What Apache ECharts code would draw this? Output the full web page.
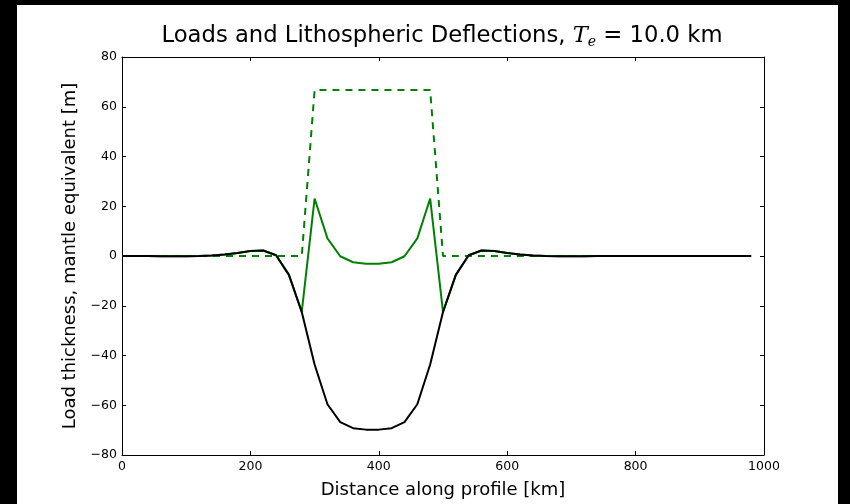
<!DOCTYPE html>
<html><head><meta charset="utf-8">
<script src="https://cdn.jsdelivr.net/npm/echarts@6/dist/echarts.min.js"></script>
<style>html,body{margin:0;padding:0;background:#000;}#c{width:850px;height:504px;}</style>
</head><body><div id="c"></div>
<script>
// distance along profile [km]
const distance = [0,20,40,60,80,100,120,140,160,180,200,220,240,260,280,300,320,340,360,380,400,420,440,460,480,500,520,540,560,580,600,620,640,660,680,700,720,740,760,780,800,820,840,860,880,900,920,940,960,980];
// load thickness (dashed green)
const loadThickness = [0,0,0,0,0,0,0,0,0,0,0,0,0,0,0,66.7,66.7,66.7,66.7,66.7,66.7,66.7,66.7,66.7,66.7,0,0,0,0,0,0,0,0,0,0,0,0,0,0,0,0,0,0,0,0,0,0,0,0,0];
// deflection (black)
const deflection = [0,0,0,-0.1,-0.1,-0.1,0,0.2,0.6,1.2,2.0,2.2,0.3,-7.6,-22.5,-43.6,-59.6,-66.8,-69.2,-69.8,-69.8,-69.2,-66.8,-59.6,-43.6,-22.5,-7.6,0.3,2.2,2.0,1.2,0.6,0.2,0,-0.1,-0.1,-0.1,0,0,0,0,0,0,0,0,0,0,0,0,0];
// load after deflection (solid green)
const loadDeflected = [0,0,0,-0.1,-0.1,-0.1,0,0.2,0.6,1.2,2.0,2.2,0.3,-7.6,-22.5,23.1,7.1,-0.1,-2.5,-3.1,-3.1,-2.5,-0.1,7.1,23.1,-22.5,-7.6,0.3,2.2,2.0,1.2,0.6,0.2,0,-0.1,-0.1,-0.1,0,0,0,0,0,0,0,0,0,0,0,0,0];
const xTicks = [0,200,400,600,800,1000];
const yTicks = [-80,-60,-40,-20,0,20,40,60,80];

const pair = (xs, ys) => xs.map((x, i) => [x, ys[i]]);
const fmt = v => (v < 0 ? '\u2212' + Math.abs(v) : String(v));
const font = '"DejaVu Sans", sans-serif';
const chart = echarts.init(document.getElementById('c'), null, {renderer: 'canvas'});
const axisCommon = {
  axisLine: {show: true, onZero: false, lineStyle: {color: '#000', width: 1}},
  axisTick: {show: true, inside: true, length: 4, lineStyle: {color: '#000'}},
  splitLine: {show: false}
};
chart.setOption({
  backgroundColor: '#000',
  animation: false,
  graphic: [{type: 'rect', z: -10, silent: true, shape: {x: 17, y: 5, width: 821, height: 499}, style: {fill: '#fff'}}],
  title: {
    text: 'Loads and Lithospheric Deflections, {it|T}{sub|e} = 10.0 km',
    left: 437, top: 18, textAlign: 'center',
    textStyle: {
      fontFamily: font, fontSize: 22.7, fontWeight: 'normal', color: '#000',
      rich: {
        it: {fontFamily: '"DejaVu Serif", serif', fontStyle: 'italic', fontSize: 22.7, color: '#000'},
        sub: {fontFamily: '"DejaVu Serif", serif', fontStyle: 'italic', fontSize: 14, color: '#000', padding: [12, 0, 0, 0]}
      }
    }
  },
  grid: {left: 122, right: 86, top: 57, bottom: 47},
  xAxis: [
    Object.assign({type: 'value', min: 0, max: 1000, interval: 200, position: 'bottom',
      name: 'Distance along profile [km]', nameLocation: 'middle', nameGap: 26,
      nameTextStyle: {fontFamily: font, fontSize: 18, color: '#000'},
      axisLabel: {fontFamily: font, fontSize: 12.5, color: '#000', margin: 5, formatter: fmt}}, axisCommon),
    Object.assign({type: 'value', min: 0, max: 1000, interval: 200, position: 'top', axisLabel: {show: false}}, axisCommon)
  ],
  yAxis: [
    Object.assign({type: 'value', min: -80, max: 80, interval: 20, position: 'left',
      name: 'Load thickness, mantle equivalent [m]', nameLocation: 'middle', nameGap: 39,
      nameTextStyle: {fontFamily: font, fontSize: 18, color: '#000'},
      axisLabel: {fontFamily: font, fontSize: 12.5, color: '#000', margin: 5, formatter: fmt}}, axisCommon),
    Object.assign({type: 'value', min: -80, max: 80, interval: 20, position: 'right', axisLabel: {show: false}}, axisCommon)
  ],
  series: [
    {type: 'line', data: pair(distance, loadThickness), showSymbol: false, lineStyle: {color: '#008000', width: 2, type: [7, 6]}, z: 2},
    {type: 'line', data: pair(distance, loadDeflected), showSymbol: false, lineStyle: {color: '#008000', width: 2}, z: 3},
    {type: 'line', data: pair(distance, deflection), showSymbol: false, lineStyle: {color: '#000', width: 2}, z: 4}
  ]
});
</script></body></html>
